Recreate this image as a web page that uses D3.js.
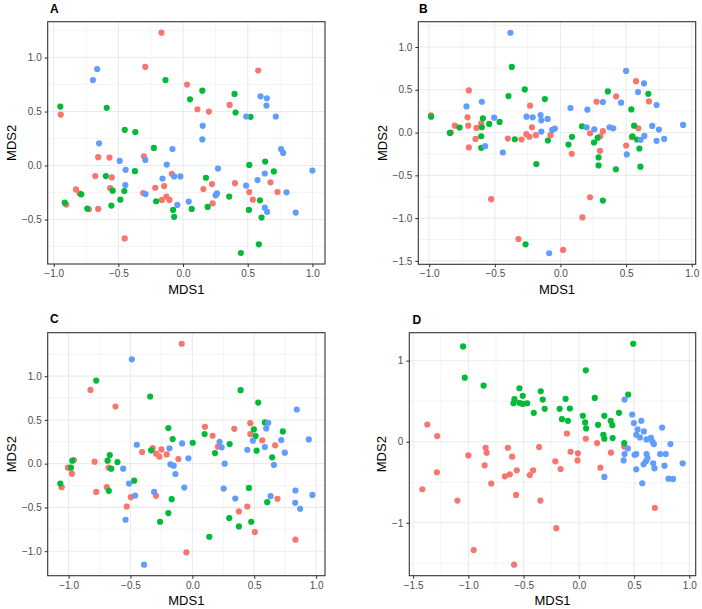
<!DOCTYPE html>
<html><head><meta charset="utf-8">
<script src="https://cdn.jsdelivr.net/npm/d3@7"></script>
<style>body{margin:0;background:#fff} svg{display:block}</style>
</head><body>
<svg id="chart" width="702" height="609"></svg>
<script>
// ---------- DATA ----------
const groupNames = ["group1", "group2", "group3"];
const groupColors = ["#F8766D", "#00BA38", "#619CFF"];
const panelLabels = ["A", "B", "C", "D"];
const xTitle = "MDS1";
const yTitle = "MDS2";

// Panel A
const A_red = [[-0.167,1.23],[-0.292,0.914],[0.031,0.75],[-0.946,0.472],[-0.656,0.077],[-0.569,0.074],[-0.303,0.086],[-0.679,-0.098],[-0.551,-0.11],[-0.087,-0.077],[-0.146,-0.19],[-0.564,-0.209],[-0.215,-0.206],[-0.828,-0.221],[-0.8,-0.258],[-0.308,-0.255],[-0.903,-0.362],[-0.164,-0.319],[-0.128,-0.288],[-0.105,-0.319],[-0.728,-0.405],[-0.656,-0.402],[-0.451,-0.675],[0.581,0.88],[0.111,0.521],[0.2,0.5],[0.36,0.561],[0.676,-0.156],[0.224,-0.172],[0.401,-0.163],[0.157,-0.218],[0.512,-0.245],[0.73,-0.245],[0.54,-0.316],[0.229,-0.35]];
const A_green = [[-0.136,0.791],[0.054,0.613],[-0.949,0.546],[-0.59,0.534],[-0.451,0.331],[-0.369,0.31],[-0.226,0.163],[-0.372,-0.052],[-0.597,-0.098],[-0.544,-0.233],[-0.454,-0.236],[-0.787,-0.267],[-0.915,-0.344],[-0.485,-0.316],[-0.208,-0.331],[0.067,-0.402],[-0.554,-0.371],[-0.741,-0.399],[-0.077,-0.411],[-0.069,-0.475],[0.149,0.693],[0.398,0.663],[0.406,0.491],[0.522,0.451],[0.512,0.006],[0.635,0.037],[0.702,-0.055],[0.177,-0.113],[0.357,-0.288],[0.594,-0.322],[0.19,-0.383],[0.509,-0.411],[0.607,-0.482],[0.586,-0.73],[0.447,-0.81]];
const A_blue = [[-0.664,0.893],[-0.697,0.791],[-0.649,0.206],[-0.082,0.153],[-0.292,0.052],[-0.49,0.043],[-0.126,0.009],[-0.444,-0.04],[-0.069,-0.101],[-0.021,-0.101],[-0.159,-0.12],[-0.446,-0.181],[-0.29,-0.264],[-0.044,-0.365],[0.044,-0.334],[0.599,0.641],[0.648,0.623],[0.645,0.555],[0.488,0.454],[0.717,0.454],[0.152,0.368],[0.149,0.242],[0.758,0.153],[0.774,0.117],[0.27,-0.028],[0.632,-0.074],[1.0,-0.046],[0.576,-0.135],[0.488,-0.187],[0.262,-0.258],[0.252,-0.276],[0.8,-0.248],[0.632,-0.39],[0.65,-0.429],[0.871,-0.436]];
const A_xTicks = [-1, -0.5, 0, 0.5, 1];
const A_xLabels = ["\u22121.0", "\u22120.5", "0.0", "0.5", "1.0"];
const A_yTicks = [-0.5, 0, 0.5, 1];
const A_yLabels = ["\u22120.5", "0.0", "0.5", "1.0"];

// Panel B
const B_red = [[-0.698,0.492],[-0.232,0.314],[-0.987,0.2],[-0.708,0.178],[-0.604,0.109],[-0.805,0.081],[-0.703,0.081],[-0.64,0.054],[-0.217,0.062],[-0.835,0.0],[-0.647,-0.074],[-0.698,-0.174],[-0.401,-0.07],[-0.297,-0.081],[-0.26,-0.019],[-0.237,-0.05],[-0.187,-0.031],[-0.076,-0.031],[-0.528,-0.779],[-0.32,-1.244],[0.576,0.601],[0.424,0.422],[0.275,0.36],[0.674,0.364],[0.593,0.05],[0.225,-0.008],[0.323,0.016],[0.303,-0.043],[0.543,-0.054],[0.5,-0.151],[0.086,-0.248],[0.301,-0.213],[0.225,-0.756],[0.167,-0.992],[0.02,-1.372]];
const B_green = [[-0.371,0.767],[-0.272,0.504],[-0.396,0.426],[-0.985,0.186],[-0.591,0.167],[-0.464,0.124],[-0.543,0.101],[-0.769,0.058],[-0.599,0.062],[-0.843,-0.004],[-0.604,-0.043],[-0.604,-0.178],[-0.348,-0.078],[-0.266,-1.306],[0.361,0.481],[0.669,0.453],[-0.119,0.391],[0.54,0.271],[0.164,0.074],[0.561,0.081],[-0.096,-0.093],[0.088,-0.05],[0.283,-0.062],[0.255,-0.116],[0.061,-0.14],[0.548,-0.043],[0.583,-0.081],[0.601,-0.186],[0.29,-0.291],[0.29,-0.384],[0.422,-0.43],[0.609,-0.399],[-0.184,-0.368],[0.323,-0.795]];
const B_blue = [[-0.381,1.167],[-0.599,0.36],[-0.716,0.306],[-0.259,0.186],[-0.212,0.178],[-0.505,0.174],[-0.574,-0.159],[-0.439,-0.233],[0.5,0.721],[0.636,0.574],[0.591,0.473],[0.323,0.357],[0.462,0.349],[0.732,0.322],[0.076,0.287],[0.205,0.267],[-0.152,0.205],[-0.146,0.143],[-0.098,0.159],[0.199,0.062],[0.258,0.039],[0.374,0.062],[0.402,0.05],[0.699,0.078],[0.75,0.035],[0.934,0.089],[-0.146,0.012],[-0.063,0.031],[-0.043,0.047],[0.639,-0.039],[0.611,-0.085],[0.732,-0.097],[0.79,-0.074],[0.505,-0.256],[-0.086,-1.411]];
const B_xTicks = [-1, -0.5, 0, 0.5, 1];
const B_xLabels = ["\u22121.0", "\u22120.5", "0.0", "0.5", "1.0"];
const B_yTicks = [-1.5, -1, -0.5, 0, 0.5, 1];
const B_yLabels = ["\u22121.5", "\u22121.0", "\u22120.5", "0.0", "0.5", "1.0"];

// Panel C
const C_red = [[-0.086,1.37],[-0.823,0.842],[-0.621,0.653],[-0.32,0.178],[-0.406,0.133],[-0.293,0.114],[-0.25,0.163],[-0.266,0.08],[-0.207,0.106],[-0.113,0.053],[-0.957,0.042],[-0.79,0.023],[-1.005,-0.046],[-0.677,-0.046],[-0.973,-0.114],[-1.056,-0.269],[-0.691,-0.269],[-0.777,-0.323],[-0.293,-0.368],[-0.497,-0.383],[-0.53,-0.49],[-0.048,-1.013],[0.102,0.421],[0.164,0.319],[0.339,0.398],[0.468,0.463],[0.468,0.338],[0.565,0.266],[0.669,0.209],[0.207,0.194],[0.688,-0.402],[0.444,-0.49],[0.376,-0.546],[0.505,-0.782],[0.833,-0.869]];
const C_green = [[-0.777,0.949],[-0.341,0.767],[-0.194,0.406],[-0.159,0.281],[-0.333,0.152],[-0.667,0.099],[-0.97,0.034],[-0.685,0.034],[-0.605,0.019],[-0.981,-0.046],[-0.656,-0.057],[-1.067,-0.228],[-0.675,-0.311],[-0.47,-0.194],[-0.167,-0.406],[-0.194,-0.565],[-0.261,-0.664],[0.39,0.839],[0.532,0.698],[0.099,0.338],[0.497,0.391],[0.586,0.471],[0.511,0.315],[0.731,0.368],[0.519,0.148],[0.645,0.072],[0.183,0.121],[0.301,0.224],[0.003,0.239],[0.457,-0.277],[0.605,-0.44],[0.298,-0.622],[0.376,-0.717],[0.476,-0.664],[0.137,-0.835]];
const C_blue = [[-0.489,1.192],[-0.449,0.216],[-0.083,0.231],[-0.185,0.175],[-0.032,0.061],[-0.559,-0.057],[-0.177,-0.008],[-0.151,-0.023],[-0.137,-0.118],[-0.511,-0.228],[-0.065,-0.273],[-0.309,-0.323],[-0.462,-0.364],[-0.54,-0.641],[-0.39,-1.154],[0.844,0.619],[0.613,0.467],[0.597,0.402],[0.489,0.262],[0.718,0.269],[0.941,0.277],[0.586,0.19],[0.444,0.159],[0.747,0.125],[0.659,-0.015],[0.22,0.25],[0.237,0.186],[0.261,0.0],[0.253,-0.285],[0.833,-0.307],[0.632,-0.372],[0.97,-0.357],[0.347,-0.398],[0.831,-0.448],[0.871,-0.516]];
const C_xTicks = [-1, -0.5, 0, 0.5, 1];
const C_xLabels = ["\u22121.0", "\u22120.5", "0.0", "0.5", "1.0"];
const C_yTicks = [-1, -0.5, 0, 0.5, 1];
const C_yLabels = ["\u22121.0", "\u22120.5", "0.0", "0.5", "1.0"];

// Panel D
const D_red = [[-1.372,0.213],[-1.282,0.07],[-0.844,-0.074],[-0.643,-0.074],[-0.835,-0.135],[-0.604,-0.184],[-1.0,-0.168],[-0.853,-0.291],[-0.562,-0.352],[-0.625,-0.402],[-0.67,-0.426],[-0.444,-0.41],[-0.414,-0.352],[-1.285,-0.377],[-0.793,-0.516],[-1.417,-0.586],[-0.568,-0.656],[-1.099,-0.725],[-0.952,-1.336],[-0.586,-1.516],[-0.108,0.102],[0.063,0.037],[0.165,-0.016],[0.411,-0.061],[-0.36,-0.066],[-0.075,-0.123],[-0.009,-0.143],[-0.012,-0.23],[0.291,-0.135],[-0.213,-0.242],[-0.165,-0.336],[0.195,-0.32],[-0.348,-0.725],[-0.204,-1.066],[0.688,-0.816]];
const D_green = [[-1.048,1.176],[-1.033,0.791],[-0.862,0.693],[-0.538,0.66],[-0.508,0.566],[-0.583,0.525],[-0.592,0.475],[-0.538,0.48],[-0.508,0.467],[-0.468,0.475],[0.492,1.209],[0.063,0.881],[-0.345,0.623],[-0.327,0.52],[-0.12,0.529],[0.144,0.541],[0.447,0.582],[-0.309,0.406],[-0.408,0.357],[-0.174,0.406],[-0.081,0.41],[-0.153,0.279],[-0.099,0.258],[0.036,0.32],[0.057,0.238],[0.066,0.164],[0.174,0.209],[0.231,0.32],[0.363,0.357],[0.288,0.258],[0.303,0.205],[0.222,0.086],[0.231,0.037],[0.306,0.045],[0.411,-0.016]];
const D_blue = [[0.414,0.52],[0.483,0.336],[0.498,0.23],[0.565,0.258],[0.532,0.152],[0.589,0.127],[0.52,0.086],[0.553,0.053],[0.613,0.029],[0.652,0.049],[0.667,0.0],[0.679,-0.029],[0.754,0.176],[0.829,-0.029],[0.444,-0.082],[0.414,-0.152],[0.405,-0.23],[0.505,-0.16],[0.52,-0.152],[0.613,-0.152],[0.622,-0.201],[0.607,-0.242],[0.586,-0.279],[0.52,-0.34],[0.673,-0.266],[0.685,-0.328],[0.736,-0.152],[0.787,-0.152],[0.775,-0.295],[0.94,-0.266],[0.811,-0.455],[0.853,-0.459],[0.574,-0.512],[0.231,-0.434]];
const D_xTicks = [-1.5, -1, -0.5, 0, 0.5, 1];
const D_xLabels = ["\u22121.5", "\u22121.0", "\u22120.5", "0.0", "0.5", "1.0"];
const D_yTicks = [-1, 0, 1];
const D_yLabels = ["\u22121", "0", "1"];

// ---------- LAYOUT ----------
const panels = [
  {label: panelLabels[0], series: [A_red, A_green, A_blue], xTicks: A_xTicks, xLabels: A_xLabels, yTicks: A_yTicks, yLabels: A_yLabels,
   box: {left: 47.7, top: 21.7, right: 325, bottom: 264}, tag: [50, 13.3]},
  {label: panelLabels[1], series: [B_red, B_green, B_blue], xTicks: B_xTicks, xLabels: B_xLabels, yTicks: B_yTicks, yLabels: B_yLabels,
   box: {left: 418.3, top: 21.7, right: 695.7, bottom: 264.3}, tag: [419, 13.3]},
  {label: panelLabels[2], series: [C_red, C_green, C_blue], xTicks: C_xTicks, xLabels: C_xLabels, yTicks: C_yTicks, yLabels: C_yLabels,
   box: {left: 47.7, top: 332.7, right: 325, bottom: 575.7}, tag: [50, 323]},
  {label: panelLabels[3], series: [D_red, D_green, D_blue], xTicks: D_xTicks, xLabels: D_xLabels, yTicks: D_yTicks, yLabels: D_yLabels,
   box: {left: 409.3, top: 332.7, right: 695.7, bottom: 575.7}, tag: [412.5, 324]}
];

const svg = d3.select("#chart");
const FONT = "'Liberation Sans', Arial, Helvetica, sans-serif";

function expanded(vals) {
  const [lo, hi] = d3.extent(vals);
  const pad = (hi - lo) * 0.05;
  return [lo - pad, hi + pad];
}
function minorBreaks(ticks, domain) {
  const step = ticks[1] - ticks[0];
  const out = [];
  for (let v = ticks[0] - step / 2; v <= ticks[ticks.length - 1] + step / 2 + 1e-9; v += step) {
    if (v >= domain[0] && v <= domain[1]) out.push(v);
  }
  return out;
}

panels.forEach(p => {
  const all = p.series.flat();
  const xDom = expanded(all.map(d => d[0]));
  const yDom = expanded(all.map(d => d[1]));
  const b = p.box;
  const x = d3.scaleLinear().domain(xDom).range([b.left, b.right]);
  const y = d3.scaleLinear().domain(yDom).range([b.bottom, b.top]);
  const g = svg.append("g");

  // background
  g.append("rect").attr("x", b.left).attr("y", b.top).attr("width", b.right - b.left).attr("height", b.bottom - b.top).attr("fill", "#fff");

  // minor grid
  const grid = g.append("g");
  minorBreaks(p.xTicks, xDom).forEach(v => grid.append("line").attr("x1", x(v)).attr("x2", x(v)).attr("y1", b.top).attr("y2", b.bottom).attr("stroke", "#EBEBEB").attr("stroke-width", 0.55));
  minorBreaks(p.yTicks, yDom).forEach(v => grid.append("line").attr("y1", y(v)).attr("y2", y(v)).attr("x1", b.left).attr("x2", b.right).attr("stroke", "#EBEBEB").attr("stroke-width", 0.55));
  // major grid
  p.xTicks.forEach(v => grid.append("line").attr("x1", x(v)).attr("x2", x(v)).attr("y1", b.top).attr("y2", b.bottom).attr("stroke", "#EBEBEB").attr("stroke-width", 1.1));
  p.yTicks.forEach(v => grid.append("line").attr("y1", y(v)).attr("y2", y(v)).attr("x1", b.left).attr("x2", b.right).attr("stroke", "#EBEBEB").attr("stroke-width", 1.1));

  // points
  p.series.forEach((s, i) => {
    g.append("g").selectAll("circle").data(s).join("circle")
      .attr("cx", d => x(d[0])).attr("cy", d => y(d[1])).attr("r", 3.1)
      .attr("fill", groupColors[i]).attr("data-group", groupNames[i]);
  });

  // border
  g.append("rect").attr("x", b.left).attr("y", b.top).attr("width", b.right - b.left).attr("height", b.bottom - b.top)
    .attr("fill", "none").attr("stroke", "#333333").attr("stroke-width", 1.1);

  // axes
  const xAxis = d3.axisBottom(x).tickValues(p.xTicks).tickSize(3).tickPadding(3).tickFormat((d, i) => p.xLabels[i]);
  const yAxis = d3.axisLeft(y).tickValues(p.yTicks).tickSize(3).tickPadding(3).tickFormat((d, i) => p.yLabels[i]);
  const gx = g.append("g").attr("transform", `translate(0,${b.bottom})`).call(xAxis);
  const gy = g.append("g").attr("transform", `translate(${b.left},0)`).call(yAxis);
  [gx, gy].forEach(ax => {
    ax.select(".domain").remove();
    ax.selectAll(".tick line").attr("stroke", "#333333").attr("stroke-width", 1.05);
    ax.selectAll(".tick text").attr("fill", "#4D4D4D").style("font-family", FONT).style("font-size", "10px");
  });
  gx.selectAll(".tick text").attr("dy", "0.71em");

  // axis titles
  g.append("text").attr("x", (b.left + b.right) / 2).attr("y", b.bottom + 29.5)
    .attr("text-anchor", "middle").style("font-family", FONT).style("font-size", "13px").attr("fill", "#000").text(xTitle);
  const yb = gy.node().getBBox();
  const tx = b.left + yb.x - 6;
  g.append("text").attr("transform", `translate(${tx},${(b.top + b.bottom) / 2}) rotate(-90)`)
    .attr("text-anchor", "middle").style("font-family", FONT).style("font-size", "13px").attr("fill", "#000").text(yTitle);

  // panel tag
  g.append("text").attr("x", p.tag[0]).attr("y", p.tag[1]).style("font-family", FONT).style("font-size", "12px")
    .style("font-weight", "bold").attr("fill", "#000").text(p.label);
});
</script>
</body></html>
